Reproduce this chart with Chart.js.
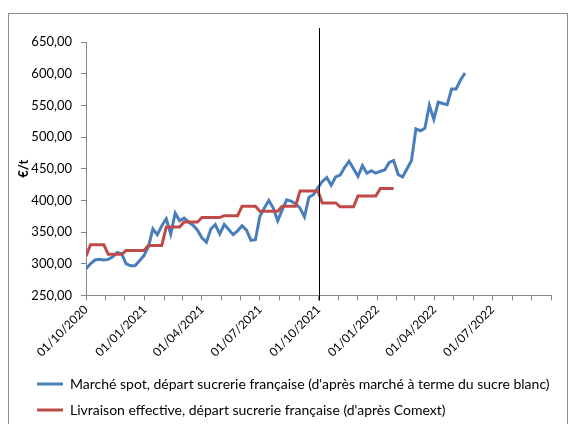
<!DOCTYPE html>
<html lang="fr">
<head>
<meta charset="utf-8">
<script src="https://cdn.jsdelivr.net/npm/chart.js@4.4.1/dist/chart.umd.min.js"></script>
<style>
  html, body { margin: 0; padding: 0; background: #fff; overflow: hidden; }
  #wrap { position: relative; width: 571px; height: 424px; overflow: hidden; }
  #frame { position: absolute; left: 8px; top: 13px; width: 560px; height: 440px; border: 1px solid #8c8c8c; box-sizing: border-box; }
  #chart { position: absolute; left: 0; top: 0; }
</style>
</head>
<body>
<div id="wrap">
  <div id="frame"></div>
  <canvas id="chart" width="571" height="440"></canvas>
</div>
<script>
"use strict";

// dates of the x axis -----------------------------------
const startDate = "01/10/2020";
const axisEnd = "01/10/2022";
const markerDate = "01/10/2021";
const tickLabels = [
  "01/10/2020",
  "01/01/2021",
  "01/04/2021",
  "01/07/2021",
  "01/10/2021",
  "01/01/2022",
  "01/04/2022",
  "01/07/2022",
];

// marché spot, une valeur par semaine depuis le 01/10/2020 (€/t)
const spotValues = [
  292, 300, 306, 307, 306, 307, 311, 318, 316, 300,
  297, 297, 305, 313, 327, 355, 346, 360, 371, 347,
  380, 368, 372, 366, 361, 353, 341, 334, 355, 362,
  347, 362, 354, 346, 352, 360, 353, 337, 338, 375,
  388, 400, 388, 368, 385, 401, 399, 395, 388, 374,
  405, 409, 420, 430, 436, 424, 437, 440, 452, 462,
  450, 438, 455, 443, 447, 443, 446, 448, 460, 463,
  441, 437, 450, 463, 513, 510, 514, 550, 528, 555,
  553, 551, 576, 576, 590, 601,
];

// livraison effective (Comext), valeur mensuelle oct. 2020 -> janv. 2022 (€/t)
const comextValues = [330, 315, 321, 329, 358, 366, 373, 376, 391, 383, 391, 415, 396, 390, 407, 419];
const comextFirstWeek = 312;
const comextWeeks = 70;

const seriesLabels = [
  "Marché spot, départ sucrerie française (d'après marché à terme du sucre blanc)",
  "Livraison effective, départ sucrerie française (d'après Comext)",
];

const BLUE = "#4a7ebb";
const RED = "#be4b48";
const GREY = "#868686";

Chart.defaults.font.family = "Lato, 'Open Sans', sans-serif";
Chart.defaults.color = "#000";

function parseDate(label) {
  const [d, m, y] = label.split("/").map(Number);
  return Date.UTC(y, m - 1, d);
}
const DAY = 86400000;
const START = parseDate(startDate);
function toDay(label) {
  return (parseDate(label) - START) / DAY;
}

// one tick per month
const monthDays = [];
{
  const s = new Date(START);
  for (let k = 0; ; k++) {
    const t = Date.UTC(s.getUTCFullYear(), s.getUTCMonth() + k, 1);
    const day = (t - START) / DAY;
    if (day > toDay(axisEnd)) break;
    monthDays.push(day);
  }
}

const spotPoints = spotValues.map((v, i) => ({ x: i * 7, y: v }));

const comextPoints = [];
for (let i = 0; i < comextWeeks; i++) {
  const d = new Date(START + i * 7 * DAY);
  const idx = (d.getUTCFullYear() - 2020) * 12 + d.getUTCMonth() - 9;
  comextPoints.push({ x: i * 7, y: i === 0 ? comextFirstWeek : comextValues[idx] });
}

// trait vertical au 01/10/2021
const markerLine = {
  id: "markerLine",
  afterDatasetsDraw(chart) {
    const { ctx, chartArea, scales } = chart;
    const x = Math.round(scales.x.getPixelForValue(toDay(markerDate))) + 0.5;
    ctx.save();
    ctx.strokeStyle = "#000";
    ctx.lineWidth = 1;
    ctx.beginPath();
    ctx.moveTo(x, chartArea.top - 14);
    ctx.lineTo(x, chartArea.bottom + 5);
    ctx.stroke();
    ctx.restore();
  },
};

new Chart(document.getElementById("chart"), {
  type: "line",
  data: {
    datasets: [
      {
        label: seriesLabels[0],
        data: spotPoints,
        borderColor: BLUE,
        backgroundColor: BLUE,
        borderWidth: 3,
        pointRadius: 0,
        order: 2,
      },
      {
        label: seriesLabels[1],
        data: comextPoints,
        borderColor: RED,
        backgroundColor: RED,
        borderWidth: 3,
        pointRadius: 0,
        order: 1,
      },
    ],
  },
  options: {
    responsive: false,
    animation: false,
    layout: { padding: { left: 25, right: 20, top: 42, bottom: 13 } },
    scales: {
      x: {
        type: "linear",
        min: 0,
        max: toDay(axisEnd),
        afterBuildTicks: (scale) => {
          scale.ticks = monthDays.map((v) => ({ value: v }));
        },
        afterFit: (scale) => {
          scale.height = 69.5;
        },
        grid: { drawOnChartArea: false, tickLength: 5, color: GREY },
        border: { color: GREY },
        ticks: {
          autoSkip: false,
          minRotation: 45,
          maxRotation: 45,
          padding: 2,
          font: { size: 12 },
          callback: function (value) {
            const label = tickLabels.find((l) => toDay(l) === value);
            return label || "";
          },
        },
      },
      y: {
        min: 250,
        max: 650,
        afterFit: (scale) => {
          scale.width = 61;
        },
        grid: { drawOnChartArea: false, tickLength: 5, color: GREY },
        border: { color: GREY },
        ticks: {
          stepSize: 50,
          padding: 9,
          font: { size: 13 },
          callback: function (value) {
            return value.toFixed(2).replace(".", ",");
          },
        },
        title: {
          display: true,
          text: "€/t",
          font: { size: 13, weight: "bold" },
          padding: { top: -9, bottom: 0 },
        },
      },
    },
    plugins: {
      legend: {
        position: "bottom",
        align: "start",
        labels: {
          boxWidth: 26,
          boxHeight: 3,
          padding: 12,
          font: { size: 14 },
          sort: (a, b) => a.datasetIndex - b.datasetIndex,
          generateLabels: (chart) =>
            Chart.defaults.plugins.legend.labels
              .generateLabels(chart)
              .map((item) => ({ ...item, lineWidth: 0 })),
        },
      },
      tooltip: { enabled: false },
    },
  },
  plugins: [markerLine],
});
</script>
</body>
</html>
